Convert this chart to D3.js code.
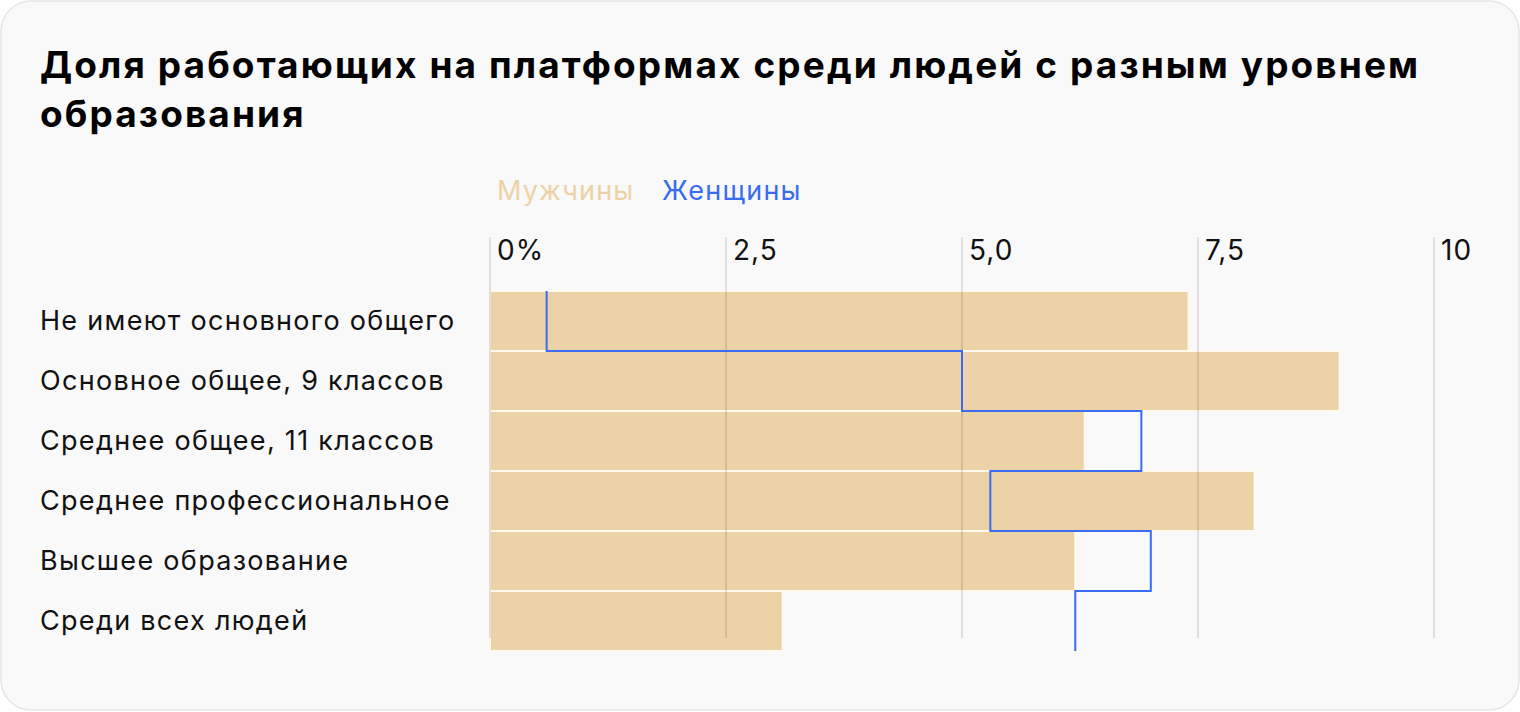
<!DOCTYPE html>
<html>
<head>
<meta charset="utf-8">
<script src="https://cdn.jsdelivr.net/npm/d3@7"></script>
<style>
    body { margin: 0; background: #fff; }
    svg { display: block; font-family: Inter, "Noto Sans", sans-serif; }
</style>
</head>
<body>
<script>
"use strict";

var categories = [
    "Не имеют основного общего",
    "Основное общее, 9 классов",
    "Среднее общее, 11 классов",
    "Среднее профессиональное",
    "Высшее образование",
    "Среди всех людей"
];
var men = [7.4, 9.0, 6.3, 8.1, 6.2, 3.1];
var women = [0.6, 5.0, 6.9, 5.3, 7.0, 6.2];
var tickValues = [0, 2.5, 5, 7.5, 10];
var tickLabels = ["0%", "2,5", "5,0", "7,5", "10"];
var seriesNames = ["Мужчины", "Женщины"];

var width = 1520,
    height = 712;

var barColor = "#edd2a7",
    lineColor = "#3a6cf2";

var svg = d3.select("body").append("svg")
    .attr("width", width)
    .attr("height", height);

// card
svg.append("rect")
    .attr("x", 1).attr("y", 1)
    .attr("width", width - 2).attr("height", height - 3)
    .attr("rx", 30)
    .style("fill", "#f9f9f9")
    .style("stroke", "#e6e6e6")
    .style("stroke-width", 1.5);

// title
var title = svg.append("text")
    .style("font-size", "37px")
    .style("font-weight", 700)
    .style("letter-spacing", "2.1px")
    .style("fill", "#000");
title.append("tspan").attr("x", 40).attr("y", 78)
    .text("Доля работающих на платформах среди людей с разным уровнем");
title.append("tspan").attr("x", 40).attr("y", 127)
    .text("образования");

var xScale = d3.scaleLinear()
    .domain([0, 10])
    .range([490, 1434]);

var yScale = d3.scaleBand()
    .domain(categories)
    .range([291, 651])
    .paddingInner(0);

// legend
var legend = svg.append("text")
    .attr("y", 200)
    .style("font-size", "27px")
    .style("letter-spacing", "1.2px");
legend.append("tspan").attr("x", 497).style("fill", barColor).text(seriesNames[0]);
legend.append("tspan").attr("x", 662).style("fill", lineColor).text(seriesNames[1]);

// bars
svg.append("g").selectAll("rect")
    .data(categories)
    .enter().append("rect")
        .attr("x", xScale(0))
        .attr("y", function(d) { return yScale(d); })
        .attr("width", function(d, i) { return xScale(men[i]) - xScale(0); })
        .attr("height", yScale.bandwidth())
        .style("fill", barColor)
        .style("stroke", "#fff8ec")
        .style("stroke-width", 2);

// grid
svg.append("g").selectAll("line")
    .data(tickValues)
    .enter().append("line")
        .attr("x1", function(d) { return xScale(d); })
        .attr("x2", function(d) { return xScale(d); })
        .attr("y1", 237)
        .attr("y2", 638)
        .style("stroke", "#000")
        .style("stroke-opacity", 0.1)
        .style("stroke-width", 2);

svg.append("g").selectAll("text")
    .data(tickValues)
    .enter().append("text")
        .attr("x", function(d) { return xScale(d) + 7; })
        .attr("y", 260)
        .style("font-size", "28px")
        .style("letter-spacing", "1px")
        .style("fill", "#111")
        .text(function(d, i) { return tickLabels[i]; });

// row labels
svg.append("g").selectAll("text")
    .data(categories)
    .enter().append("text")
        .attr("x", 40)
        .attr("y", function(d) { return yScale(d) + yScale.bandwidth() / 2; })
        .attr("dy", "0.35em")
        .style("font-size", "27px")
        .style("letter-spacing", "1.3px")
        .style("fill", "#111")
        .text(function(d) { return d; });

// women step line
var pts = [];
for (var i = 0; i < categories.length; i++) {
    pts.push([xScale(women[i]), yScale(categories[i])]);
    pts.push([xScale(women[i]), yScale(categories[i]) + yScale.bandwidth()]);
}

svg.append("path")
    .datum(pts)
    .attr("d", d3.line())
    .style("fill", "none")
    .style("stroke", lineColor)
    .style("stroke-width", 2);
</script>
</body>
</html>
